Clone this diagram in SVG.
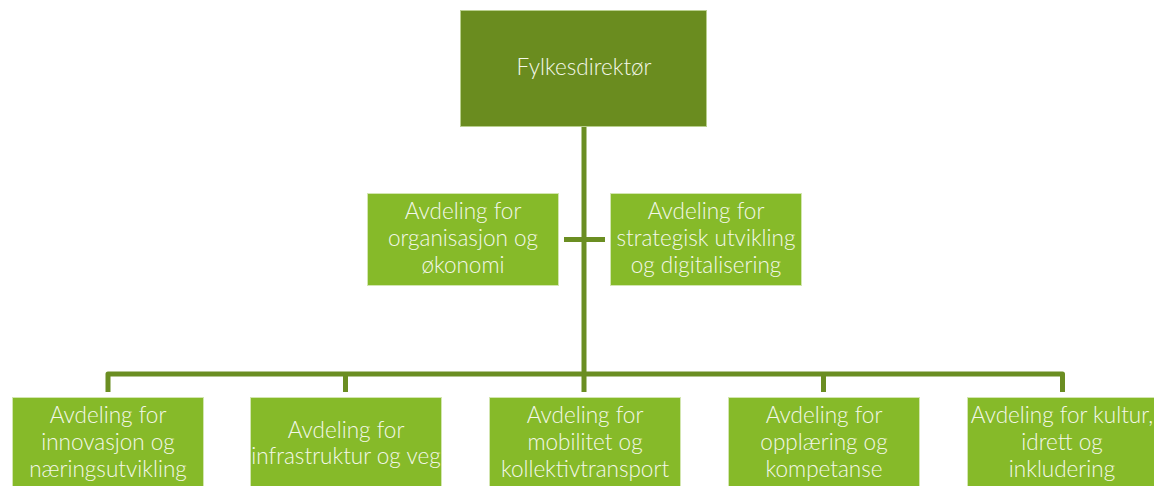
<svg xmlns="http://www.w3.org/2000/svg" width="1154" height="486" viewBox="0 0 1154 486">
<style>
.top{fill:#6A8C1F;stroke:#b9cf8e;stroke-width:1}
.box{fill:#86BA29;stroke:#d3e6b0;stroke-width:1}
.t{font-family:Lato,"Liberation Sans",sans-serif;font-weight:300;font-size:22.5px;fill:#f4f8ea;text-anchor:middle}
.ln{fill:none;stroke:#6B8E22;stroke-width:5;stroke-linejoin:round}
</style>
<rect width="1154" height="486" fill="#ffffff"/>
<g id="connectors">
<path class="ln" d="M584,127 V392"/>
<path class="ln" d="M564,239.5 H605"/>
<path class="ln" d="M108,392 V374 H1062.5 V392"/>
<path class="ln" d="M345.5,374 V392"/>
<path class="ln" d="M823.5,374 V392"/>
</g>
<g id="n0"><rect class="top" x="460.5" y="10.5" width="246" height="116"/><text class="t" x="584" y="75">Fylkesdirektør</text></g>
<g id="n1"><rect class="box" x="367.5" y="193.5" width="191" height="92"/><text class="t" x="463" y="219">Avdeling for</text><text class="t" x="463" y="246">organisasjon og</text><text class="t" x="463" y="273">økonomi</text></g>
<g id="n2"><rect class="box" x="610.5" y="193.5" width="191" height="92"/><text class="t" x="706" y="219">Avdeling for</text><text class="t" x="706" y="246">strategisk utvikling</text><text class="t" x="706" y="273">og digitalisering</text></g>
<g id="n3"><rect class="box" x="12.5" y="397.5" width="191" height="100"/><text class="t" x="108" y="423">Avdeling for</text><text class="t" x="108" y="450">innovasjon og</text><text class="t" x="108" y="477">næringsutvikling</text></g>
<g id="n4"><rect class="box" x="250.5" y="397.5" width="191" height="100"/><text class="t" x="346" y="438">Avdeling for</text><text class="t" x="346" y="464">infrastruktur og veg</text></g>
<g id="n5"><rect class="box" x="489.5" y="397.5" width="191" height="100"/><text class="t" x="585" y="423">Avdeling for</text><text class="t" x="585" y="450">mobilitet og</text><text class="t" x="585" y="477">kollektivtransport</text></g>
<g id="n6"><rect class="box" x="728.5" y="397.5" width="191" height="100"/><text class="t" x="824" y="423">Avdeling for</text><text class="t" x="824" y="450">opplæring og</text><text class="t" x="824" y="477">kompetanse</text></g>
<g id="n7"><rect class="box" x="967.5" y="397.5" width="191" height="100"/><text class="t" x="1062" y="423">Avdeling for kultur,</text><text class="t" x="1062" y="450">idrett og</text><text class="t" x="1062" y="477">inkludering</text></g>
</svg>
